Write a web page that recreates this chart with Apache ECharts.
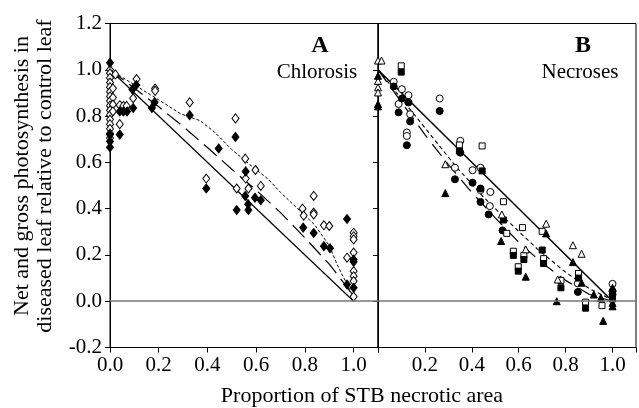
<!DOCTYPE html>
<html><head><meta charset="utf-8">
<script src="https://cdn.jsdelivr.net/npm/echarts@6/dist/echarts.min.js"></script>
<style>html,body{margin:0;padding:0;background:#fff}#c{width:639px;height:408px}</style>
</head><body><div id="c"></div>
<script>
// ---- Panel A (Chlorosis) ----
const chlorosisFilled = [[0,1.03],[0,0.72],[0,0.69],[0,0.665],[0.04,0.72],[0.04,0.82],[0.055,0.82],[0.07,0.82],
 [0.095,0.835],[0.092,0.915],[0.108,0.934],[0.183,0.86],[0.172,0.835],[0.327,0.804],[0.395,0.487],[0.446,0.66],
 [0.515,0.71],[0.52,0.394],[0.555,0.455],[0.557,0.561],[0.567,0.419],[0.568,0.394],[0.595,0.447],[0.619,0.436],
 [0.793,0.318],[0.836,0.295],[0.878,0.238],[0.903,0.229],[0.973,0.355],[0.973,0.072],[1.0,0.18],[1.0,0.17],[1.0,0.058]];
const chlorosisOpen = [[0,1.0],[0,0.985],[0,0.965],[0,0.945],[0,0.925],[0,0.905],[0,0.885],[0,0.865],[0,0.845],
 [0,0.825],[0,0.805],[0,0.785],[0,0.765],[0,0.745],[0,0.725],[0,0.705],[0.012,0.92],[0.012,0.88],[0.012,0.85],[0.012,0.82],
 [0.022,0.98],[0.04,0.847],[0.055,0.844],[0.068,0.844],[0.04,0.765],[0.095,0.877],[0.109,0.96],[0.185,0.919],[0.185,0.909],
 [0.327,0.859],[0.515,0.79],[0.395,0.53],[0.52,0.487],[0.555,0.616],[0.557,0.53],[0.568,0.487],[0.597,0.567],[0.619,0.498],
 [0.79,0.4],[0.795,0.37],[0.836,0.455],[0.836,0.383],[0.836,0.375],[0.878,0.328],[0.9,0.325],[0.973,0.188],
 [1.0,0.296],[1.0,0.281],[1.0,0.267],[1.0,0.21],[1.0,0.13],[1.0,0.108],[1.0,0.087],[1.0,0.02]];
const chlorosisRef = [[0,1],[1,0]];
const chlorosisLongDash = [[0,1],[0.1,0.92],[0.2,0.84],[0.3,0.755],[0.4,0.664],[0.5,0.57],[0.6,0.48],[0.7,0.383],[0.8,0.274],[0.9,0.16],[0.97,0.065],[1.0,0.02]];
const chlorosisShortDash = [[0,1],[0.2,0.87],[0.29,0.81],[0.37,0.78],[0.43,0.73],[0.5,0.655],[0.58,0.585],[0.65,0.527],[0.7,0.47],[0.76,0.41],[0.8,0.37],[0.84,0.33],[0.88,0.27],[0.9,0.24],[0.935,0.152],[0.977,0.065],[1.0,0.015]];

// ---- Panel B (Necroses) ----
const necrOpenCircle = [[0.067,0.948],[0.102,0.916],[0.13,0.89],[0.088,0.852],[0.137,0.808],[0.123,0.729],[0.123,0.714],
 [0.263,0.876],[0.351,0.693],[0.328,0.577],[0.403,0.566],[0.437,0.577],[0.437,0.48],[0.479,0.472],[0.477,0.411],[0.852,0.077],[1.0,0.075]];
const necrFilledCircle = [[0.067,0.928],[0.102,0.876],[0.13,0.859],[0.088,0.816],[0.137,0.777],[0.123,0.674],[0.263,0.822],
 [0.351,0.642],[0.328,0.527],[0.403,0.512],[0.437,0.487],[0.437,0.429],[0.472,0.375],[0.531,0.306],[0.852,0.04],[1.0,0.043],[1.0,0.029]];
const necrOpenSquare = [[0.099,1.017],[0.347,0.675],[0.444,0.671],[0.535,0.43],[0.549,0.293],[0.616,0.318],[0.7,0.302],
 [0.577,0.216],[0.622,0.198],[0.706,0.184],[0.598,0.149],[0.78,0.09],[0.855,0.12],[0.885,-0.004],[0.955,-0.019]];
const necrFilledSquare = [[0.099,0.99],[0.347,0.649],[0.444,0.563],[0.535,0.351],[0.577,0.198],[0.622,0.18],[0.7,0.221],
 [0.706,0.163],[0.598,0.13],[0.78,0.058],[0.855,0.1],[0.885,-0.03],[1.0,0.01]];
const necrOpenTriangle = [[0,1.04],[0.015,1.04],[0,0.952],[0,0.924],[0,0.902],[0.287,0.592],[0.528,0.375],[0.63,0.224],
 [0.717,0.335],[0.831,0.242],[0.868,0.205],[0.766,0.094]];
const necrFilledTriangle = [[0,0.974],[0,0.852],[0,0.842],[0.287,0.467],[0.525,0.26],[0.63,0.106],[0.717,0.293],[0.831,0.169],
 [0.868,0.08],[0.762,0.0],[0.92,0.029],[0.95,0.015],[0.96,-0.085],[1.0,0.058],[1.0,0.014],[1.0,-0.007],[1.0,-0.022]];
const necrRef = [[0,1],[1,0]];
const necrShortDash = [[0,1],[0.16,0.8],[0.33,0.585],[0.45,0.45],[0.56,0.34],[0.68,0.225],[0.8,0.125],[0.9,0.055],[1.0,0.005]];
const necrLongDash = [[0,1],[0.1,0.86],[0.2,0.72],[0.3,0.59],[0.4,0.47],[0.5,0.36],[0.6,0.255],[0.7,0.165],[0.8,0.09],[0.9,0.03],[1.0,0.0]];

const yTicks = {min:-0.2, max:1.2, interval:0.2};
const FONT = 'Liberation Serif';

const chart = echarts.init(document.getElementById('c'), null, {renderer:'canvas'});
function scatter(data, g, symbol, filled, size){
  return {type:'scatter', xAxisIndex:g, yAxisIndex:g, data, symbol, symbolSize:size,
    itemStyle:{color: filled?'#000':'#fff', borderColor:'#000', borderWidth:1, opacity:1}, z:3};
}
function line(data, g, dash, w){
  return {type:'line', xAxisIndex:g, yAxisIndex:g, data, showSymbol:false, symbol:'none',
    lineStyle:{color:'#000', width:w||1.2, type:dash}, z:2, silent:true};
}
function zero(g){
  return {type:'line', xAxisIndex:g, yAxisIndex:g, data:[], markLine:{silent:true, symbol:['none','none'],
    label:{show:false}, lineStyle:{color:'#777', width:1.5, type:'solid'}, data:[{yAxis:0}]}};
}
function xAx(g, fmt){
  return {gridIndex:g, type:'value', min:0, max:1.1, interval:0.2,
    axisLine:{show:true, onZero:false, lineStyle:{color:'#000', width:1}},
    axisTick:{show:true, length:5, lineStyle:{color:'#000'}},
    axisLabel:{formatter:fmt, fontFamily:FONT, fontSize:21, color:'#000', margin:7},
    splitLine:{show:false}};
}
function yAx(g, showLabel){
  return {gridIndex:g, type:'value', min:yTicks.min, max:yTicks.max, interval:yTicks.interval,
    axisLine:{show:true, onZero:false, lineStyle:{color:'#000', width:1}},
    axisTick:{show:true, length:5, lineStyle:{color:'#000'}},
    axisLabel:{show:showLabel, formatter:v=>v.toFixed(1), fontFamily:FONT, fontSize:21, color:'#000', margin:8},
    splitLine:{show:false}};
}
const option = {
  animation:false,
  backgroundColor:'#fff',
  grid:[
    {left:110, top:23.5, width:268, height:324, show:true, borderColor:'#000', borderWidth:1},
    {left:378, top:23.5, width:262, height:324, show:true, borderColor:'#000', borderWidth:1}
  ],
  xAxis:[xAx(0, v=> v>1.05?'':v.toFixed(1)), xAx(1, v=> (v<0.05||v>1.05)?'':v.toFixed(1))],
  yAxis:[yAx(0,true), yAx(1,false)],
  series:[
    zero(0), zero(1),
    line(chlorosisRef,0,'solid'), line(chlorosisLongDash,0,[17,7]), line(chlorosisShortDash,0,[3,2],1),
    scatter(chlorosisOpen,0,'diamond',false,[7,9]), scatter(chlorosisFilled,0,'diamond',true,[7,9]),
    line(necrRef,1,'solid',1.5), line(necrShortDash,1,[4,3],1.1), line(necrLongDash,1,[15,8]),
    scatter(necrOpenCircle,1,'circle',false,7), scatter(necrFilledCircle,1,'circle',true,7),
    scatter(necrOpenSquare,1,'rect',false,6), scatter(necrFilledSquare,1,'rect',true,6),
    scatter(necrOpenTriangle,1,'triangle',false,7), scatter(necrFilledTriangle,1,'triangle',true,7)
  ],
  graphic:[
    {type:'text', x:320, y:46, style:{text:'A', font:'bold 24px "Liberation Serif"', fill:'#000', textAlign:'center', textVerticalAlign:'middle'}},
    {type:'text', x:317, y:72, style:{text:'Chlorosis', font:'21px "Liberation Serif"', fill:'#000', textAlign:'center', textVerticalAlign:'middle'}},
    {type:'text', x:583, y:46, style:{text:'B', font:'bold 24px "Liberation Serif"', fill:'#000', textAlign:'center', textVerticalAlign:'middle'}},
    {type:'text', x:580, y:72, style:{text:'Necroses', font:'21px "Liberation Serif"', fill:'#000', textAlign:'center', textVerticalAlign:'middle'}},
    {type:'text', x:362, y:396, style:{text:'Proportion of STB necrotic area', font:'22px "Liberation Serif"', fill:'#000', textAlign:'center', textVerticalAlign:'middle'}},
    {type:'text', x:22, y:176, rotation:Math.PI/2, style:{text:'Net and gross photosynthesis in', font:'22px "Liberation Serif"', fill:'#000', textAlign:'center', textVerticalAlign:'middle'}},
    {type:'text', x:45, y:176, rotation:Math.PI/2, style:{text:'diseased leaf relative to control leaf', font:'22px "Liberation Serif"', fill:'#000', textAlign:'center', textVerticalAlign:'middle'}}
  ]
};
chart.setOption(option);
</script></body></html>
